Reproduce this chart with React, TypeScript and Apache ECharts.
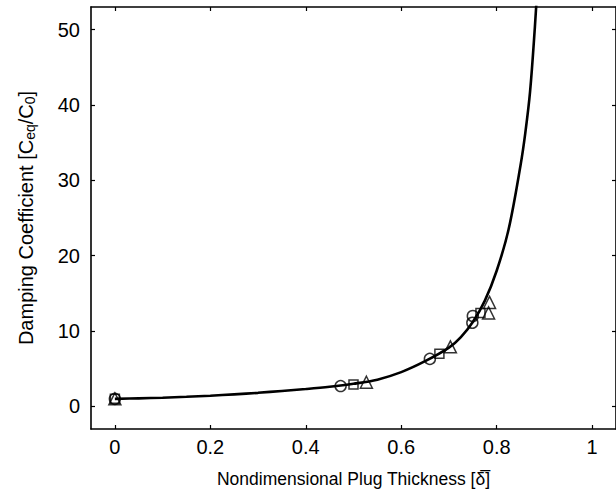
import React, { useEffect, useRef } from "react";
import * as echarts from "echarts";

const xTicks = [0, 0.2, 0.4, 0.6, 0.8, 1];
const xTickLabels = ["0", "0.2", "0.4", "0.6", "0.8", "1"];
const yTicks = [0, 10, 20, 30, 40, 50];

const curveX = [0, 0.05, 0.1, 0.15, 0.2, 0.25, 0.3, 0.35, 0.4, 0.45, 0.5, 0.55, 0.6, 0.65, 0.7, 0.725, 0.75, 0.775, 0.8, 0.825, 0.85, 0.86, 0.87, 0.88, 0.885, 0.89];
const curveY = [1.0, 1.07, 1.15, 1.27, 1.42, 1.6, 1.8, 2.05, 2.3, 2.6, 3.0, 3.55, 4.55, 6.0, 7.8, 9.2, 11.2, 14.0, 18.0, 23.5, 32, 36.3, 41.8, 50.3, 55.5, 61];

const circleX = [0, 0.473, 0.66, 0.749, 0.75];
const circleY = [1.0, 2.7, 6.3, 11.1, 12.0];
const squareX = [0, 0.5, 0.68, 0.766];
const squareY = [1.0, 2.9, 7.0, 12.4];
const triangleX = [0, 0.527, 0.703, 0.783, 0.785];
const triangleY = [1.0, 3.2, 7.9, 12.4, 13.8];

const zip = (xs: number[], ys: number[]) => xs.map((x, i) => [x, ys[i]]);

const FONT = "'Liberation Sans', Arial, Helvetica, sans-serif";

export default function App() {
  const ref = useRef<HTMLDivElement>(null);
  useEffect(() => {
    if (!ref.current) return;
    const chart = echarts.init(ref.current, undefined, { renderer: "svg" });
    const axisLine = { show: true, onZero: false, lineStyle: { color: "#000", width: 1.6 } };
    const tick = { show: true, inside: true, length: 4, lineStyle: { color: "#000", width: 1.2 } };
    const markerStyle = { color: "rgba(255,255,255,0)", borderColor: "#000", borderWidth: 1.5 };
    chart.setOption({
      animation: false,
      backgroundColor: "#fff",
      grid: { left: 91, top: 7, width: 536, height: 422, containLabel: false },
      xAxis: [
        {
          type: "value",
          min: -0.05,
          max: 1.05,
          position: "bottom",
          axisLine,
          axisTick: { ...tick, customValues: xTicks },
          axisLabel: {
            customValues: xTicks,
            formatter: (v: number) => xTickLabels[xTicks.findIndex((t) => Math.abs(t - v) < 1e-6)] ?? "",
            color: "#000",
            fontSize: 20,
            fontFamily: FONT,
            margin: 8,
          },
          splitLine: { show: false },
          name: "Nondimensional Plug Thickness [δ\u0305]",
          nameLocation: "middle",
          nameGap: 41,
          nameTextStyle: { color: "#000", fontSize: 17.5, fontFamily: FONT },
        },
        {
          type: "value",
          min: -0.05,
          max: 1.05,
          position: "top",
          axisLine,
          axisTick: { ...tick, customValues: xTicks },
          axisLabel: { show: false },
          splitLine: { show: false },
        },
      ],
      yAxis: [
        {
          type: "value",
          min: -3,
          max: 53,
          position: "left",
          axisLine,
          axisTick: { ...tick, customValues: yTicks },
          axisLabel: {
            customValues: yTicks,
            color: "#000",
            fontSize: 20,
            fontFamily: FONT,
            margin: 11,
          },
          splitLine: { show: false },
          name: "Damping Coefficient [C{sub|eq}/C{sub|0}]",
          nameLocation: "middle",
          nameRotate: 90,
          nameGap: 54,
          nameTextStyle: {
            color: "#000",
            fontSize: 20,
            fontFamily: FONT,
            rich: {
              sub: { fontSize: 14, fontFamily: FONT, color: "#000", verticalAlign: "bottom", padding: [8, 0, 0, 0] },
            },
          },
        },
        {
          type: "value",
          min: -3,
          max: 53,
          position: "right",
          axisLine,
          axisTick: { ...tick, customValues: yTicks },
          axisLabel: { show: false },
          splitLine: { show: false },
        },
      ],
      series: [
        {
          type: "line",
          data: zip(curveX, curveY),
          smooth: 0.35,
          showSymbol: false,
          symbol: "none",
          clip: true,
          lineStyle: { color: "#000", width: 2.6 },
          z: 3,
        },
        {
          type: "scatter",
          data: zip(circleX, circleY),
          symbol: "circle",
          symbolSize: 11,
          itemStyle: markerStyle,
          z: 4,
        },
        {
          type: "scatter",
          data: zip(squareX, squareY),
          symbol: "rect",
          symbolSize: 9,
          itemStyle: markerStyle,
          z: 4,
        },
        {
          type: "scatter",
          data: zip(triangleX, triangleY),
          symbol: "triangle",
          symbolSize: 12,
          itemStyle: markerStyle,
          z: 4,
        },
      ],
    });
    return () => chart.dispose();
  }, []);
  return <div ref={ref} style={{ width: 616, height: 495, position: "absolute", left: 0, top: 0 }} />;
}
